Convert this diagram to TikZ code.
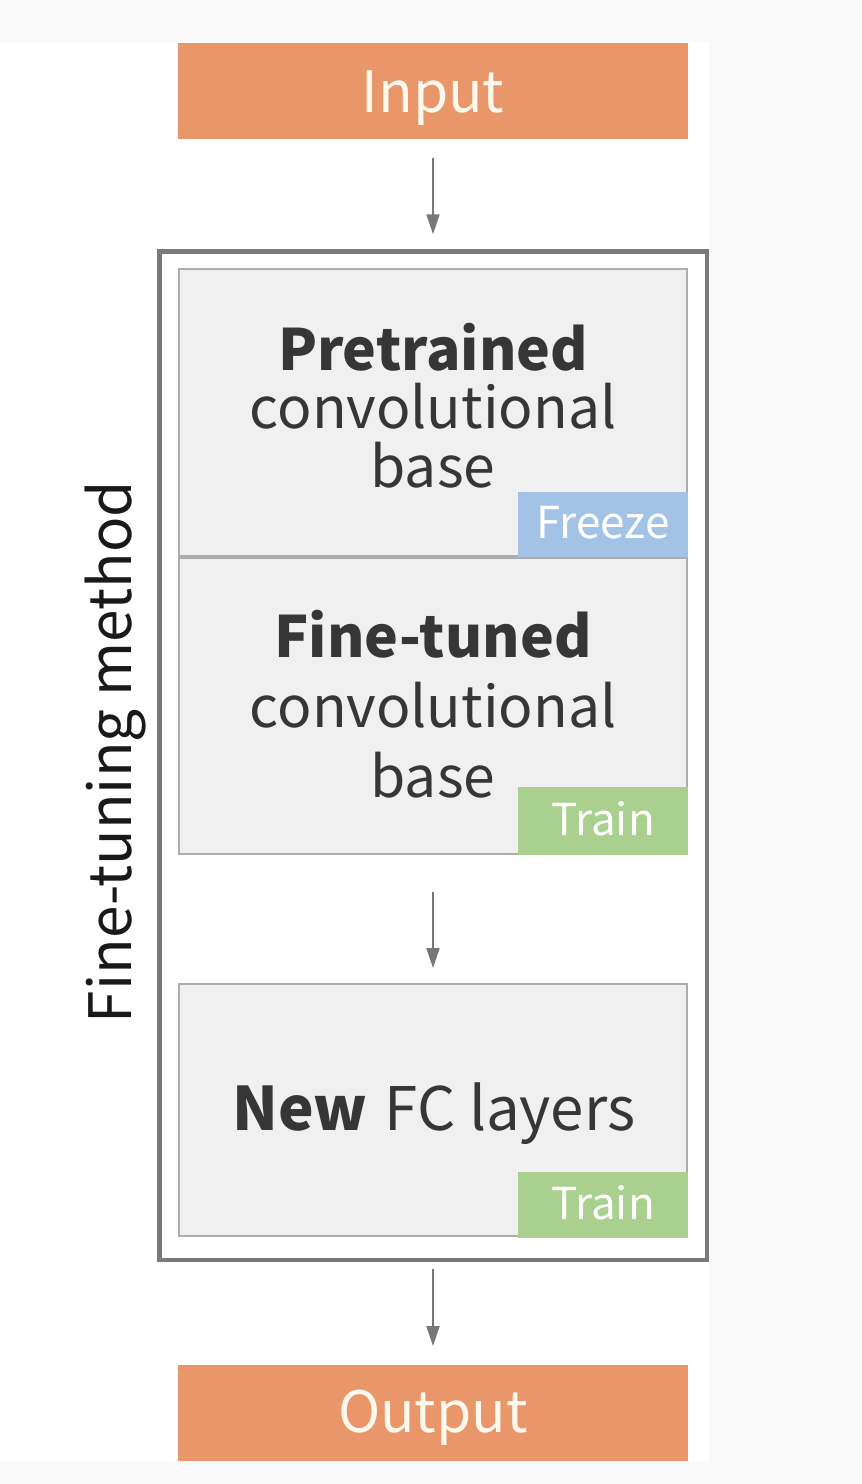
\documentclass[tikz,border=0pt]{standalone}
\usepackage{fontspec}
\setmainfont{Noto Sans CJK JP}
\usetikzlibrary{arrows.meta}
\definecolor{bgstrip}{HTML}{F9F9F9}
\definecolor{orangebox}{HTML}{E8966A}
\definecolor{panelfill}{HTML}{F0F0F0}
\definecolor{panelline}{HTML}{ADADAD}
\definecolor{frameline}{HTML}{7A7A7A}
\definecolor{freezeblue}{HTML}{A2C2E6}
\definecolor{traingreen}{HTML}{A9D08E}
\definecolor{txt}{HTML}{363636}
\definecolor{arrowgray}{HTML}{777777}
\definecolor{cream}{HTML}{FFF8EC}
\begin{document}
\begin{tikzpicture}[x=1pt,y=-1pt,
  io/.style={rectangle, fill=orangebox, minimum width=510pt, minimum height=96pt,
    inner sep=0pt, outer sep=0pt},
  iotext/.style={text=cream, inner sep=0pt, font=\fontsize{57}{57}\selectfont},
  panel/.style={rectangle, fill=panelfill, draw=panelline, line width=2pt,
    minimum width=508pt, inner sep=0pt, outer sep=0pt},
  tag/.style={rectangle, minimum width=170pt, inner sep=0pt, outer sep=0pt},
  tagtext/.style={text=white, inner sep=0pt, font=\fontsize{44}{44}\selectfont},
  boldtxt/.style={text=txt, inner sep=0pt, font=\fontsize{57}{57}\selectfont\bfseries},
  regtxt/.style={text=txt, inner sep=0pt, font=\fontsize{57}{57}\selectfont},
  frame/.style={rectangle, draw=frameline, line width=4.5pt, minimum width=547.5pt,
    minimum height=1008.5pt, inner sep=0pt, outer sep=0pt},
  arr/.style={draw=arrowgray, line width=2pt, -{Triangle[length=20pt,width=13pt]}},
]
% background
\fill[bgstrip] (0,0) rectangle (862,1484);
\fill[white] (0,42) rectangle (709,1461);
\useasboundingbox (0,0) rectangle (862,1484);

% input / output
\node[io] (input) at (433,90.5) {};
\node[iotext, anchor=base] (inputtxt) at (433,112) {Input};
\node[io] (output) at (433,1413) {};
\node[iotext, anchor=base] (outputtxt) at (433,1432) {Output};

% frame
\node[frame] (frame) at (433,755.5) {};
\node[text=black!90, inner sep=0pt, rotate=90, anchor=base,
  font=\fontsize{58.5}{58.5}\selectfont] (sidelabel) at (131,752) {Fine-tuning method};

% panels
\node[panel, minimum height=287pt] (pre) at (433,412.5) {};
\node[panel, minimum height=296pt] (fine) at (433,706) {};
\node[panel, minimum height=252pt] (fc) at (433,1110) {};

% tags
\node[tag, fill=freezeblue, minimum height=65pt] (freeze) at (603,524.5) {};
\node[tagtext, anchor=base] (freezetxt) at (603,538) {Freeze};
\node[tag, fill=traingreen, minimum height=68pt] (train1) at (603,821) {};
\node[tagtext, anchor=base] (train1txt) at (603,835) {Train};
\node[tag, fill=traingreen, minimum height=66pt] (train2) at (603,1205) {};
\node[tagtext, anchor=base] (train2txt) at (603,1219) {Train};

% panel texts
\node[boldtxt, anchor=base] (pre1) at (433,370) {Pretrained};
\node[regtxt, anchor=base] (pre2) at (433,428) {convolutional};
\node[regtxt, anchor=base] (pre3) at (433,487) {base};
\node[boldtxt, anchor=base] (fine1) at (433,657) {Fine-tuned};
\node[regtxt, anchor=base] (fine2) at (433,727) {convolutional};
\node[regtxt, anchor=base] (fine3) at (433,797) {base};
\node[regtxt, anchor=base, font=\fontsize{60}{60}\selectfont] (fctxt) at (434,1130)
  {{\bfseries New}\hspace{4pt} FC layers};

% arrows
\draw[arr, shorten <=19pt, shorten >=17pt] (input) -- (frame);
\draw[arr, shorten <=38pt, shorten >=16pt] (fine) -- (fc);
\draw[arr, shorten <=9pt, shorten >=19pt] (frame) -- (output);
\end{tikzpicture}
\end{document}
